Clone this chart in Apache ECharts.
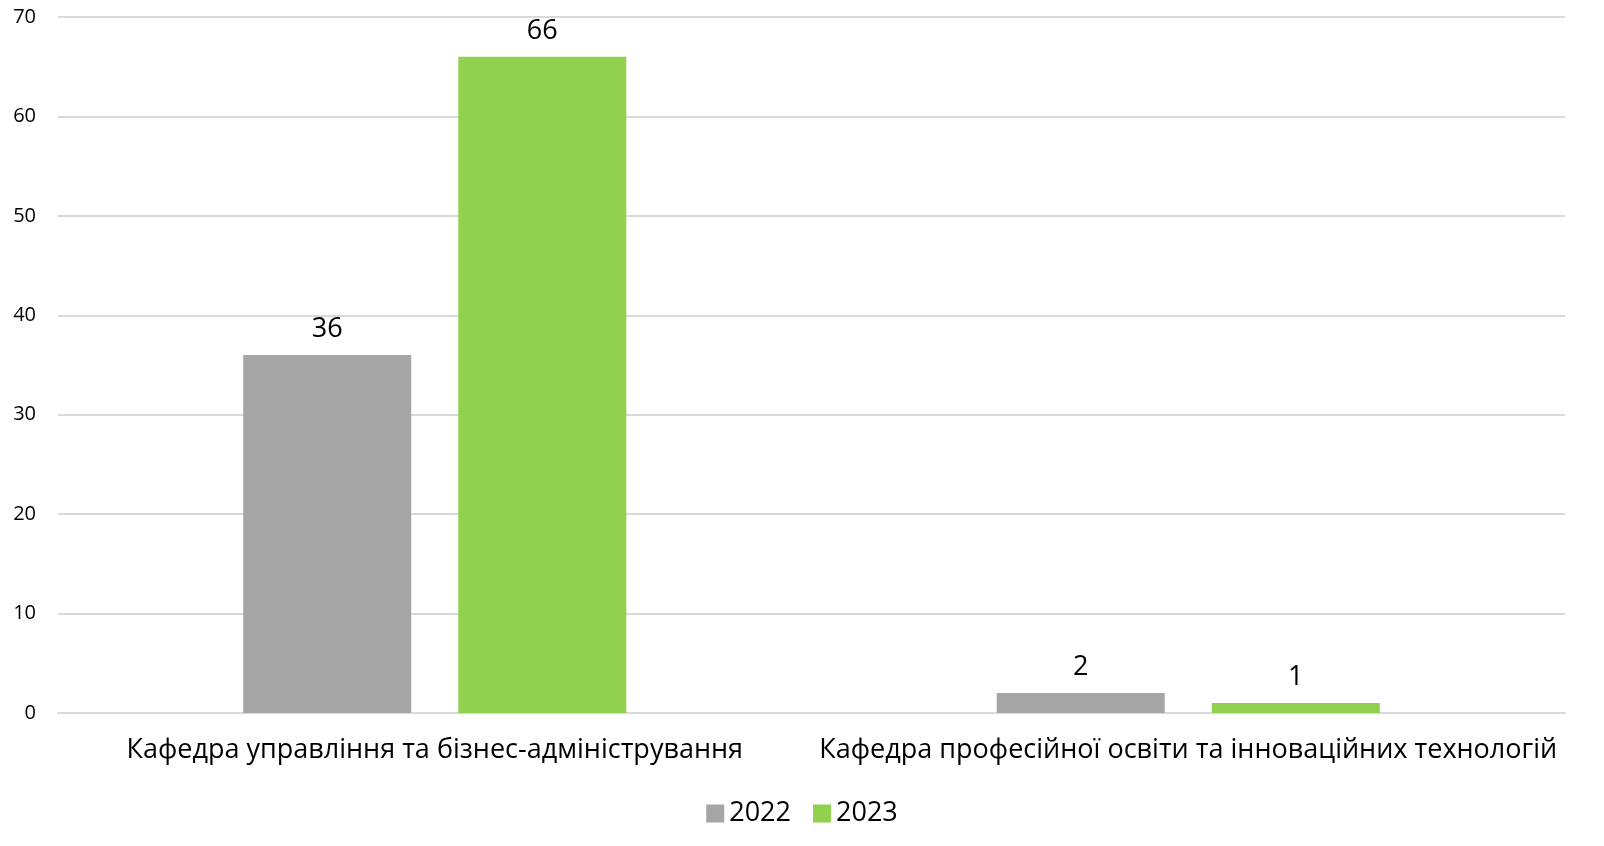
<!DOCTYPE html>
<html><head><meta charset="utf-8">
<script src="https://cdn.jsdelivr.net/npm/echarts@6/dist/echarts.min.js"></script>
<style>html,body{margin:0;padding:0;background:#fff}#c{width:1604px;height:846px}</style>
</head><body><div id="c"></div>
<script>
const categories = ['Кафедра управління та бізнес-адміністрування', 'Кафедра професійної освіти та інноваційних технологій'];
const seriesNames = ['2022', '2023'];
const values2022 = [36, 2];
const values2023 = [66, 1];
const colors = ['#A5A5A5', '#92D050'];
const font = 'Open Sans, Noto Sans, sans-serif';
const chart = echarts.init(document.getElementById('c'));
chart.setOption({
  animation: false,
  textStyle: {fontFamily: font},
  grid: {left: 58, right: 39, top: 17, bottom: 133, containLabel: false},
  legend: {
    bottom: 14, left: 'center', itemWidth: 18, itemHeight: 18, itemGap: 22,
    icon: 'rect',
    textStyle: {fontSize: 27, color: '#000', fontFamily: font},
    data: seriesNames
  },
  xAxis: {
    type: 'category', data: categories,
    axisLine: {show: true, lineStyle: {color: '#D9D9D9', width: 2}},
    axisTick: {show: false},
    axisLabel: {fontSize: 27, color: '#000', margin: 24, fontFamily: font, interval: 0}
  },
  yAxis: {
    type: 'value', min: 0, max: 70, interval: 10,
    axisLine: {show: false}, axisTick: {show: false},
    splitLine: {lineStyle: {color: '#D9D9D9', width: 2}},
    axisLabel: {fontSize: 20, color: '#000', margin: 22, fontFamily: font}
  },
  series: [
    {name: seriesNames[0], type: 'bar', data: values2022, barWidth: 168, barGap: '28%',
     itemStyle: {color: colors[0]},
     label: {show: true, position: 'top', distance: 12, fontSize: 27, color: '#000', fontFamily: font}},
    {name: seriesNames[1], type: 'bar', data: values2023, barWidth: 168,
     itemStyle: {color: colors[1]},
     label: {show: true, position: 'top', distance: 12, fontSize: 27, color: '#000', fontFamily: font}}
  ]
});
</script></body></html>
